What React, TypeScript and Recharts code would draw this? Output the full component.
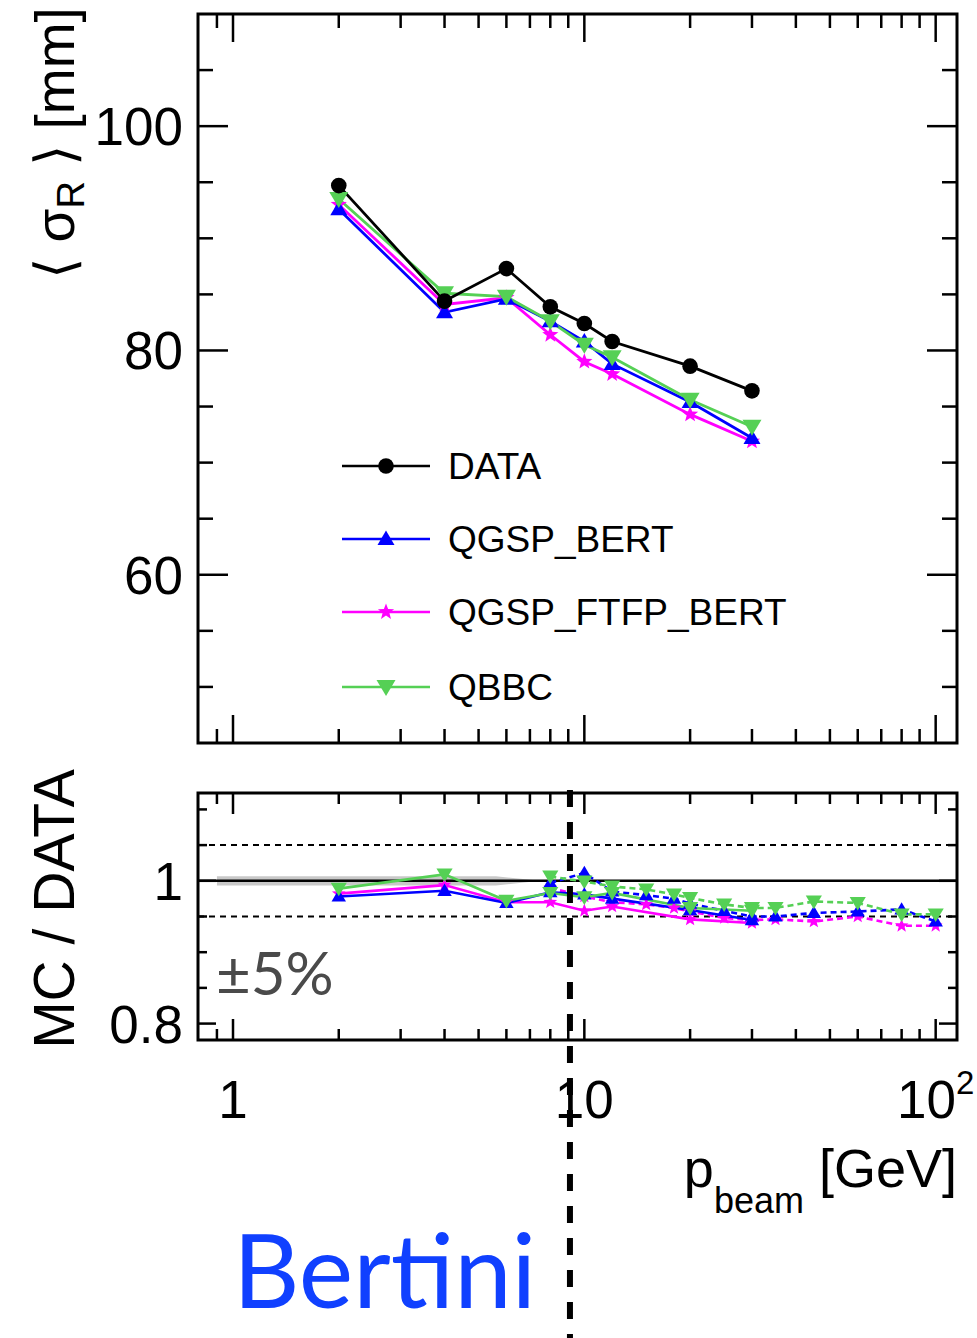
import {
  Area,
  ComposedChart,
  Legend,
  Line,
  LineChart,
  ReferenceArea,
  ReferenceLine,
  XAxis,
  YAxis,
} from "recharts";

const FONT = '"Liberation Sans", Arial, Helvetica, sans-serif';
const SOFT_FONT = 'Lato, "Open Sans", sans-serif';
const W = 977;
const BLUE = "#0000ff";
const MAGENTA = "#ff00ff";
const GREEN = "#55d055";

// axes
const X_DOMAIN = [0.795, 115];
const X_TICKS = [0.9, 1, 2, 3, 4, 5, 6, 7, 8, 9, 10, 20, 30, 40, 50, 60, 70, 80, 90, 100];
const X_MAJOR = [1, 10, 100];
const TOP_Y_DOMAIN = [45, 110];
const TOP_Y_TICKS = [50, 55, 60, 65, 70, 75, 80, 85, 90, 95, 100, 105];
const TOP_Y_LABELS = [60, 80, 100];
const RATIO_DOMAIN = [0.777, 1.123];
const RATIO_TICKS = [0.8, 0.85, 0.9, 0.95, 1, 1.05, 1.1];
const RATIO_LABELS = [0.8, 1];

// <sigma_R> vs beam momentum
const ENERGY = [2, 4, 6, 8, 10, 12, 20, 30];
const SIGMA_DATA = [94.7, 84.4, 87.3, 83.9, 82.4, 80.8, 78.6, 76.4];
const SIGMA_QGSP_BERT = [92.6, 83.4, 84.6, 82.6, 80.8, 78.8, 75.4, 72.2];
const SIGMA_QGSP_FTFP_BERT = [93.0, 84.1, 84.7, 81.4, 79.0, 77.9, 74.3, 71.9];
const SIGMA_QBBC = [93.5, 85.1, 84.8, 82.6, 80.5, 79.4, 75.6, 73.2];

// MC / DATA, same energies (solid)
const RATIO_QGSP_BERT = [0.978, 0.986, 0.969, 0.984, 0.981, 0.975, 0.959, 0.945];
const RATIO_QGSP_FTFP_BERT = [0.982, 0.994, 0.970, 0.970, 0.958, 0.964, 0.946, 0.941];
const RATIO_QBBC = [0.989, 1.009, 0.972, 0.983, 0.977, 0.983, 0.962, 0.958];

// MC / DATA, high energy run (dashed)
const ENERGY_HIGH = [8, 10, 12, 15, 18, 20, 25, 30, 35, 45, 60, 80, 100];
const RATIO_HIGH_QGSP_BERT = [0.997, 1.011, 0.985, 0.98, 0.975, 0.968, 0.958, 0.95, 0.95, 0.955, 0.957, 0.96, 0.943];
const RATIO_HIGH_QGSP_FTFP_BERT = [0.99, 0.978, 0.97, 0.967, 0.962, 0.957, 0.948, 0.945, 0.946, 0.943, 0.95, 0.937, 0.937];
const RATIO_HIGH_QBBC = [1.006, 0.999, 0.992, 0.988, 0.981, 0.976, 0.967, 0.962, 0.962, 0.971, 0.969, 0.953, 0.953];

// data uncertainty band
const BAND_X = [0.9, 5.6, 7.5];
const BAND_LOW = [0.9935, 0.9935, 1.0];
const BAND_HIGH = [1.0065, 1.0065, 1.0];

const BERTINI_LIMIT = 9.1;

const topRows = ENERGY.map((x, i) => ({
  x,
  data: SIGMA_DATA[i],
  bert: SIGMA_QGSP_BERT[i],
  ftfp: SIGMA_QGSP_FTFP_BERT[i],
  qbbc: SIGMA_QBBC[i],
}));
const pairs = (xs: number[], ys: number[]) => xs.map((x, i) => ({ x, y: ys[i] }));
const bandRows = BAND_X.map((x, i) => ({ x, band: [BAND_LOW[i], BAND_HIGH[i]] }));

// markers
function Marker({ kind, cx, cy, k = 1 }: { kind: string; cx: number; cy: number; k?: number }) {
  if (kind === "circle") return <circle cx={cx} cy={cy} r={7.8 * k} fill="#000" />;
  if (kind === "up")
    return (
      <path
        d={`M${cx},${cy - 8.5 * k} L${cx + 8.5 * k},${cy + 6 * k} L${cx - 8.5 * k},${cy + 6 * k} Z`}
        fill={BLUE}
      />
    );
  if (kind === "down")
    return (
      <path
        d={`M${cx},${cy + 9 * k} L${cx + 9.5 * k},${cy - 7 * k} L${cx - 9.5 * k},${cy - 7 * k} Z`}
        fill={GREEN}
      />
    );
  const pts: string[] = [];
  for (let j = 0; j < 10; j++) {
    const r = (j % 2 === 0 ? 8.5 : 3.6) * k;
    const a = -Math.PI / 2 + (j * Math.PI) / 5;
    pts.push(`${cx + r * Math.cos(a)},${cy + r * Math.sin(a)}`);
  }
  return <polygon points={pts.join(" ")} fill={MAGENTA} />;
}

const dotOf = (kind: string, k = 1) => (p: any) =>
  <Marker key={`${kind}${p.index}`} kind={kind} cx={p.cx} cy={p.cy} k={k} />;

// inward ticks on all four sides
function makeXTick(plotH: number, major: number, minor: number, labels: boolean) {
  return (p: any) => {
    const { x, y, payload } = p;
    const v = payload.value;
    const isMajor = X_MAJOR.includes(v);
    const len = isMajor ? major : minor;
    return (
      <g key={`xt${v}`}>
        <line x1={x} y1={y} x2={x} y2={y - len} stroke="#000" strokeWidth={2.5} />
        <line x1={x} y1={y - plotH} x2={x} y2={y - plotH + len} stroke="#000" strokeWidth={2.5} />
        {labels && isMajor && (
          <text x={x} y={y + 78} textAnchor="middle" fontSize={53} fontFamily={FONT} fill="#000">
            {v === 100 ? (
              <>
                10
                <tspan dy={-24} fontSize={33}>
                  2
                </tspan>
              </>
            ) : (
              v
            )}
          </text>
        )}
      </g>
    );
  };
}

function makeYTick(plotW: number, major: number, minor: number, labels: number[]) {
  return (p: any) => {
    const { x, y, payload } = p;
    const v = payload.value;
    const isMajor = labels.some((l) => Math.abs(l - v) < 1e-9);
    const len = isMajor ? major : minor;
    return (
      <g key={`yt${v}`}>
        <line x1={x} y1={y} x2={x + len} y2={y} stroke="#000" strokeWidth={2.5} />
        <line x1={x + plotW} y1={y} x2={x + plotW - len} y2={y} stroke="#000" strokeWidth={2.5} />
        {isMajor && (
          <text x={x - 15} y={y + 19} textAnchor="end" fontSize={53} fontFamily={FONT} fill="#000">
            {v}
          </text>
        )}
      </g>
    );
  };
}

const LEGEND_ROWS = [
  { name: "DATA", color: "#000", kind: "circle" },
  { name: "QGSP_BERT", color: BLUE, kind: "up" },
  { name: "QGSP_FTFP_BERT", color: MAGENTA, kind: "star" },
  { name: "QBBC", color: GREEN, kind: "down" },
];
const LEGEND_Y = [36, 109, 182, 257];

function LegendBox() {
  return (
    <svg width={480} height={280}>
      {LEGEND_ROWS.map((r, i) => (
        <g key={r.name}>
          <line x1={12} x2={100} y1={LEGEND_Y[i]} y2={LEGEND_Y[i]} stroke={r.color} strokeWidth={2.5} />
          <Marker kind={r.kind} cx={56} cy={LEGEND_Y[i]} />
          <text x={118} y={LEGEND_Y[i] + 13} fontSize={37} fontFamily={FONT} fill="#000">
            {r.name}
          </text>
        </g>
      ))}
    </svg>
  );
}

const TOP_PLOT_W = 759;
const TOP_PLOT_H = 729;
const BOT_PLOT_H = 247;

function TopPanel() {
  const line = { strokeWidth: 2.8, activeDot: false as const, isAnimationActive: false, type: "linear" as const };
  return (
    <LineChart width={W} height={773} data={topRows} margin={{ top: 14, right: 20, bottom: 0, left: 138 }}>
      <XAxis
        dataKey="x"
        type="number"
        scale="log"
        domain={X_DOMAIN}
        allowDataOverflow
        ticks={X_TICKS}
        interval={0}
        axisLine={false}
        tickLine={false}
        tickSize={0}
        tickMargin={0}
        height={30}
        tick={makeXTick(TOP_PLOT_H, 28, 14, false)}
      />
      <YAxis
        type="number"
        domain={TOP_Y_DOMAIN}
        allowDataOverflow
        ticks={TOP_Y_TICKS}
        interval={0}
        axisLine={false}
        tickLine={false}
        tickSize={0}
        tickMargin={0}
        width={60}
        tick={makeYTick(TOP_PLOT_W, 30, 15, TOP_Y_LABELS)}
      />
      <ReferenceArea
        x1={X_DOMAIN[0]}
        x2={X_DOMAIN[1]}
        y1={TOP_Y_DOMAIN[0]}
        y2={TOP_Y_DOMAIN[1]}
        fill="none"
        stroke="#000"
        strokeWidth={3}
        ifOverflow="visible"
      />
      <Line dataKey="ftfp" stroke={MAGENTA} dot={dotOf("star")} {...line} />
      <Line dataKey="bert" stroke={BLUE} dot={dotOf("up")} {...line} />
      <Line dataKey="qbbc" stroke={GREEN} dot={dotOf("down")} {...line} />
      <Line dataKey="data" stroke="#000" dot={dotOf("circle")} {...line} />
      <Legend
        layout="vertical"
        align="center"
        verticalAlign="middle"
        content={() => <LegendBox />}
        wrapperStyle={{ left: 330, top: 430, width: 480, height: 280 }}
      />
    </LineChart>
  );
}

function RatioPanel() {
  const solid = { strokeWidth: 2.6, activeDot: false as const, isAnimationActive: false, type: "linear" as const };
  const dashed = { ...solid, strokeDasharray: "6 4" };
  return (
    <ComposedChart width={W} height={558} margin={{ top: 13, right: 20, bottom: 268, left: 138 }}>
      <XAxis
        dataKey="x"
        type="number"
        scale="log"
        domain={X_DOMAIN}
        allowDataOverflow
        ticks={X_TICKS}
        interval={0}
        axisLine={false}
        tickLine={false}
        tickSize={0}
        tickMargin={0}
        height={30}
        tick={makeXTick(BOT_PLOT_H, 21, 11, true)}
      />
      <YAxis
        type="number"
        domain={RATIO_DOMAIN}
        allowDataOverflow
        ticks={RATIO_TICKS}
        interval={0}
        axisLine={false}
        tickLine={false}
        tickSize={0}
        tickMargin={0}
        width={60}
        tick={makeYTick(TOP_PLOT_W, 18, 9, RATIO_LABELS)}
      />
      <Area data={bandRows} dataKey="band" type="linear" fill="#c8c8c8" fillOpacity={1} stroke="none" isAnimationActive={false} />
      <ReferenceLine y={1} stroke="#000" strokeWidth={2.5} />
      <ReferenceLine y={1.05} stroke="#000" strokeWidth={2} strokeDasharray="6 5" />
      <ReferenceLine y={0.95} stroke="#000" strokeWidth={2} strokeDasharray="6 5" />
      <ReferenceArea
        x1={X_DOMAIN[0]}
        x2={X_DOMAIN[1]}
        y1={RATIO_DOMAIN[0]}
        y2={RATIO_DOMAIN[1]}
        fill="none"
        stroke="#000"
        strokeWidth={3}
        ifOverflow="visible"
      />
      <Line data={pairs(ENERGY_HIGH, RATIO_HIGH_QGSP_FTFP_BERT)} dataKey="y" stroke={MAGENTA} dot={dotOf("star", 0.85)} {...dashed} />
      <Line data={pairs(ENERGY_HIGH, RATIO_HIGH_QGSP_BERT)} dataKey="y" stroke={BLUE} dot={dotOf("up", 0.85)} {...dashed} />
      <Line data={pairs(ENERGY_HIGH, RATIO_HIGH_QBBC)} dataKey="y" stroke={GREEN} dot={dotOf("down", 0.85)} {...dashed} />
      <Line data={pairs(ENERGY, RATIO_QGSP_FTFP_BERT)} dataKey="y" stroke={MAGENTA} dot={dotOf("star", 0.85)} {...solid} />
      <Line data={pairs(ENERGY, RATIO_QGSP_BERT)} dataKey="y" stroke={BLUE} dot={dotOf("up", 0.85)} {...solid} />
      <Line data={pairs(ENERGY, RATIO_QBBC)} dataKey="y" stroke={GREEN} dot={dotOf("down", 0.85)} {...solid} />
      <ReferenceLine
        x={BERTINI_LIMIT}
        ifOverflow="visible"
        shape={(p: any) => (
          <line
            x1={p.x1}
            x2={p.x2}
            y1={Math.min(p.y1, p.y2) - 3}
            y2={Math.max(p.y1, p.y2) + 300}
            stroke="#000"
            strokeWidth={6}
            strokeDasharray="17 15"
          />
        )}
      />
    </ComposedChart>
  );
}

export default function App() {
  return (
    <div style={{ position: "absolute", left: 0, top: 0, width: W, height: 1338, background: "#fff" }}>
      <div style={{ position: "absolute", left: 0, top: 0 }}>
        <TopPanel />
      </div>
      <div style={{ position: "absolute", left: 0, top: 780 }}>
        <RatioPanel />
      </div>
      <svg
        width={W}
        height={1338}
        style={{ position: "absolute", left: 0, top: 0, pointerEvents: "none" }}
        fontFamily={FONT}
      >
        <text transform="translate(74,143) rotate(-90)" textAnchor="middle" fontSize={55} fill="#000">
          {"\u27E8 \u03C3"}
          <tspan fontSize={38} dy={10}>
            R
          </tspan>
          <tspan dy={-10}>{" \u27E9 [mm]"}</tspan>
        </text>
        <text transform="translate(74,909) rotate(-90)" textAnchor="middle" fontSize={57} fill="#000">
          MC / DATA
        </text>
        <text x={957} y={1187} textAnchor="end" fontSize={54} fill="#000">
          p
          <tspan fontSize={36} dy={26}>
            beam
          </tspan>
          <tspan dy={-26}> [GeV]</tspan>
        </text>
        <text x={216} y={995} fontSize={60} fill="#4a4a4a" fontFamily={SOFT_FONT}>
          ±5%
        </text>
        <text x={233} y={1308} fontSize={103} fill="#1040ff" fontFamily={SOFT_FONT}>
          Bertini
        </text>
      </svg>
    </div>
  );
}
